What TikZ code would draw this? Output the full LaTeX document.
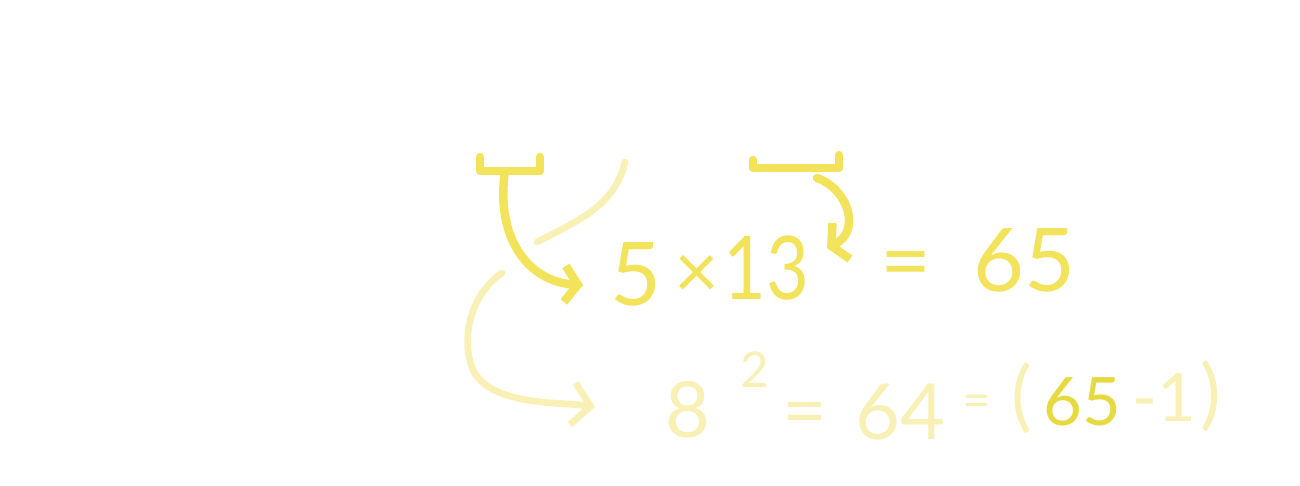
\documentclass[tikz,border=0pt]{standalone}
\usepackage{fontspec}
\setmainfont{Lato}
\usepackage{tikz}
\usetikzlibrary{arrows.meta}
\definecolor{chalk}{HTML}{F2E35A}
\definecolor{pale}{HTML}{F8F0B4}
\definecolor{deep}{HTML}{E6DA40}

\begin{document}
\begin{tikzpicture}[x=0.01cm,y=-0.01cm,
    big/.style={text=chalk,font=\fontsize{25}{30}\selectfont,inner sep=0pt},
    low/.style={text=pale,font=\fontsize{22}{26}\selectfont,inner sep=0pt},
    stroke/.style={draw=chalk,line width=2.4pt,line cap=round,line join=round},
    faint/.style={draw=pale,line width=1.9pt,line cap=round,line join=round}]
    \useasboundingbox (0,0) rectangle (1300,486);
    % top line
    \node[big] (a) at (636,274) {5};
    \node[big,font=\fontsize{22}{26}\selectfont] (b) at (697,277) {×};
    \node[big,xscale=0.84] (c) at (766,268) {13};
    \node[big] (d) at (906,272) {=};
    \node[big] (e) at (1024,260) {65};
    % bottom line
    \node[low] (f) at (688,410) {8};
    \node[low,font=\fontsize{14}{16}\selectfont] (g) at (755,370) {2};
    \node[low] (h) at (805,420) {=};
    \node[low] (i) at (900,412) {64};
    \node[low,font=\fontsize{14}{16}\selectfont] (j) at (977,406) {=};
    \node[low] (k) at (1022,398) {(};
    \node[low,text=deep,font=\fontsize{19}{23}\selectfont] (l) at (1082,402) {65};
    \node[low,font=\fontsize{19}{23}\selectfont] (m) at (1164,398) {-1};
    \node[low] (n) at (1211,396) {)};
    % brackets
    \coordinate (p) at (505,171);
    \coordinate (q) at (817,178);
    \coordinate (r) at (625,162);
    \coordinate (s) at (537,242);
    \coordinate (t) at (502,273);
    \coordinate (u) at (583,285);
    \coordinate (v) at (827,248);
    \coordinate (w) at (595,407);
    \draw[stroke] (480,157) -- (480,171) -- (540,171) -- (540,157);
    \draw[stroke] (753,160) -- (753,168) -- (839,168) -- (839,155);
    % arrows
    \draw[stroke,-{Straight Barb[length=0.13cm,width=0.36cm]}] (p) .. controls (495,240) and (530,282) .. (u);
    \draw[stroke,-{Straight Barb[length=0.11cm,width=0.4cm]}] (q) .. controls (850,190) and (860,232) .. (v);
    \draw[faint] (r) .. controls (615,205) and (580,220) .. (s);
    \draw[faint,-{Straight Barb[length=0.18cm,width=0.42cm]}] (t) .. controls (462,300) and (460,360) .. (480,380) .. controls (505,405) and (560,402) .. (w);
  \end{tikzpicture}
\end{document}
